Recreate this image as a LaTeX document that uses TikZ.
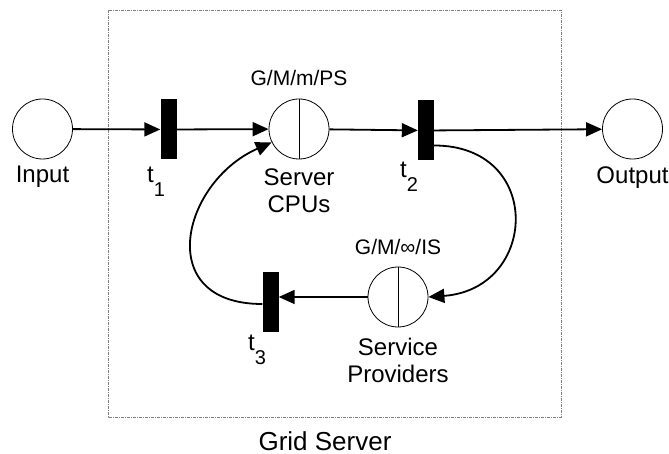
\documentclass[tikz,border=0pt]{standalone}
\usepackage{fontspec}
\setmainfont{Liberation Sans}
\usetikzlibrary{arrows.meta}

\tikzset{
  place/.style={draw, circle, line width=0.8pt, minimum size=60pt, inner sep=0pt},
  trans/.style={fill=black, draw=none, minimum width=16pt, minimum height=60pt, inner sep=0pt},
  arc/.style={line width=1.8pt, -{Triangle[length=16pt,width=14pt]}},
  lbl/.style={font=\fontsize{24}{27}\selectfont, anchor=base, align=center, inner sep=0pt},
  qlbl/.style={font=\fontsize{21}{24}\selectfont, anchor=base, inner sep=0pt},
}
\newcommand{\tname}[1]{t\raisebox{-14pt}{\fontsize{20}{20}\selectfont #1}}

\begin{document}
\begin{tikzpicture}[x=1pt, y=-1pt]
  \useasboundingbox (0,0) rectangle (669,454);

  % grid server frame
  \draw[gray, line width=0.9pt, dash pattern=on 3pt off 1pt on 1pt off 1pt]
    (108,10) rectangle (561,417);
  \node[lbl, font=\fontsize{26}{28}\selectfont] (grid) at (325,450) {Grid Server};

  % places and transitions
  \node[place] (input)  at (42.5,129) {};
  \node[trans] (t1)     at (168.5,129.5) {};
  \node[place] (cpu)    at (299,129) {};
  \node[trans] (t2)     at (426,130.5) {};
  \node[place] (output) at (632.5,129) {};
  \node[trans] (t3)     at (270.5,302) {};
  \node[place] (sp)     at (398,297) {};
  \draw[line width=0.8pt] (cpu.north) -- (cpu.south);
  \draw[line width=0.8pt] (sp.north) -- (sp.south);

  % arcs
  \draw[arc] (input) -- (t1);
  \draw[arc] (t1) -- (cpu);
  \draw[arc] (cpu) -- (t2);
  \draw[arc] (t2) -- (output);
  \draw[arc] ([yshift=-15pt]t2.east) .. controls +(110,0) and +(110,-8) .. (sp.east);
  \draw[arc] (sp.west) -- (t3.east |- sp.west);
  \draw[arc] ([yshift=-2pt]t3.west) .. controls +(-110,0) and +(-90,40) .. (cpu.206);

  % labels (base = last line)
  \node[lbl] (inlbl)  at (42.5,183) {Input};
  \node[lbl] (outlbl) at (632.5,184) {Output};
  \node[lbl] (cpulbl) at (299,213) {Server\\CPUs};
  \node[lbl] (splbl)  at (398,382) {Service\\Providers};
  \node[qlbl] (cpuq)  at (299,86) {G/M/m/PS};
  \node[qlbl] (spq)   at (398,255) {G/M/∞/IS};
  \node[lbl, anchor=base west] (t1lbl) at (147,183) {\tname{1}};
  \node[lbl, anchor=base west] (t2lbl) at (400,178) {\tname{2}};
  \node[lbl, anchor=base west] (t3lbl) at (248,350) {\tname{3}};
\end{tikzpicture}
\end{document}
